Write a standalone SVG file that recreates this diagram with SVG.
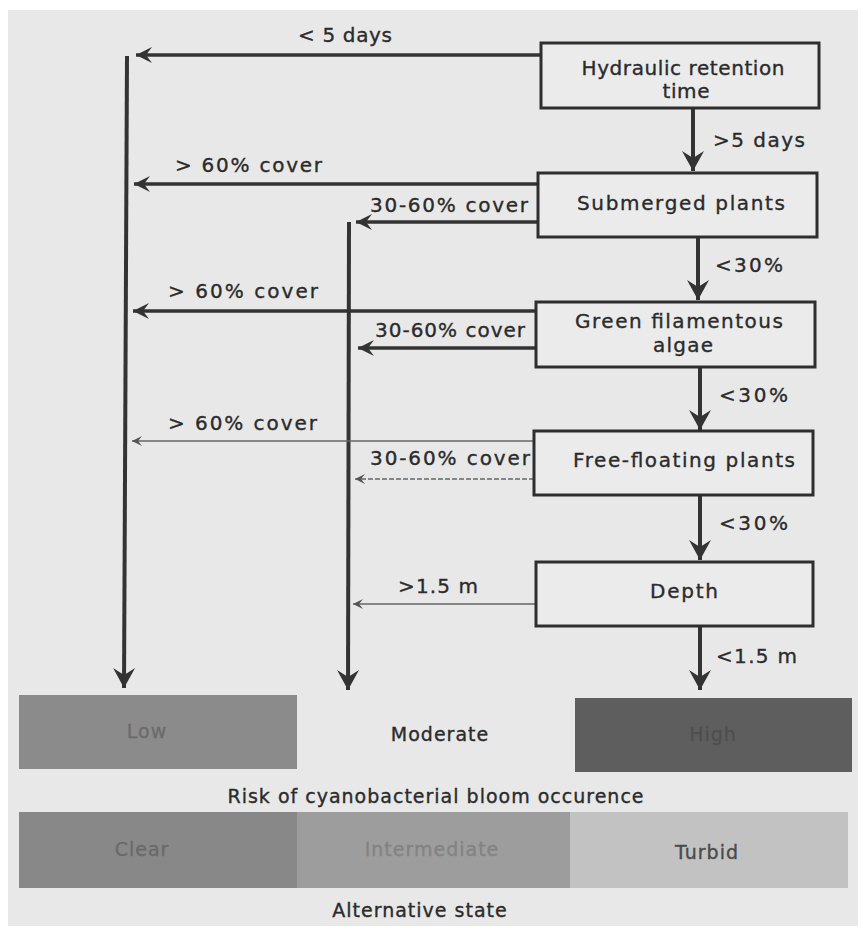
<svg xmlns="http://www.w3.org/2000/svg" width="863" height="944" viewBox="0 0 863 944">
<defs>
<marker id="ah" markerUnits="userSpaceOnUse" viewBox="-22 -12 24 24" refX="0" refY="0" markerWidth="24" markerHeight="24" orient="auto">
<path d="M0,0 L-20,-11 L-13,0 L-20,11 Z" fill="#333"/>
</marker>
<marker id="ahm" markerUnits="userSpaceOnUse" viewBox="-18 -10 20 20" refX="0" refY="0" markerWidth="20" markerHeight="20" orient="auto">
<path d="M0,0 L-16,-8 L-10,0 L-16,8 Z" fill="#333"/>
</marker>
<marker id="ahs" markerUnits="userSpaceOnUse" viewBox="-12 -7 14 14" refX="0" refY="0" markerWidth="14" markerHeight="14" orient="auto">
<path d="M0,0 L-10,-5 L-6,0 L-10,5 Z" fill="#555"/>
</marker>
</defs>
<style>
text{font-family:"DejaVu Sans","Verdana",sans-serif;fill:#2b2b2b;stroke:#2b2b2b;stroke-width:0.35}
.node rect{fill:#ebebeb;stroke:#2e2e2e;stroke-width:3}
.nt{font-size:20px;text-anchor:middle}
.lb{font-size:20px}
.thick{stroke:#333;stroke-width:4;fill:none}
.med{stroke:#333;stroke-width:3.5;fill:none}
.thin{stroke:#666;stroke-width:1.6;fill:none}
.bt{font-size:19px;letter-spacing:1px;text-anchor:middle}
</style>
<rect x="0" y="0" width="863" height="944" fill="#ffffff"/>
<rect x="8" y="10" width="850" height="916" fill="#e8e8e8"/>

<g id="connectors">
<line class="med" x1="541" y1="55" x2="136" y2="55" marker-end="url(#ahm)"/>
<line class="thick" x1="127" y1="56" x2="124" y2="688" marker-end="url(#ah)"/>
<line class="med" x1="538" y1="184" x2="134" y2="184" marker-end="url(#ahm)"/>
<line class="med" x1="538" y1="222" x2="356" y2="222" marker-end="url(#ahm)"/>
<line class="thick" x1="349" y1="222" x2="348" y2="690" marker-end="url(#ah)"/>
<line class="med" x1="536" y1="311" x2="133" y2="311" marker-end="url(#ahm)"/>
<line class="med" x1="536" y1="348" x2="358" y2="348" marker-end="url(#ahm)"/>
<line class="thin" x1="534" y1="441" x2="132" y2="441" marker-end="url(#ahs)"/>
<line class="thin" x1="534" y1="479" x2="355" y2="479" stroke-dasharray="5 2" marker-end="url(#ahs)"/>
<line class="thin" x1="536" y1="604" x2="353" y2="604" marker-end="url(#ahs)"/>
<line class="thick" x1="693" y1="108" x2="693" y2="171" marker-end="url(#ah)"/>
<line class="thick" x1="698" y1="237" x2="698" y2="300" marker-end="url(#ah)"/>
<line class="thick" x1="700" y1="367" x2="700" y2="430" marker-end="url(#ah)"/>
<line class="thick" x1="700" y1="495" x2="700" y2="560" marker-end="url(#ah)"/>
<line class="thick" x1="700" y1="626" x2="700" y2="690" marker-end="url(#ah)"/>
<text class="lb" x="298" y="42" textLength="94">&lt; 5 days</text>
<text class="lb" x="713" y="147" textLength="92">&gt;5 days</text>
<text class="lb" x="175" y="172" textLength="147">&gt; 60% cover</text>
<text class="lb" x="370" y="212" textLength="158">30-60% cover</text>
<text class="lb" x="715" y="272" textLength="68">&lt;30%</text>
<text class="lb" x="168" y="298" textLength="150">&gt; 60% cover</text>
<text class="lb" x="375" y="337" textLength="150">30-60% cover</text>
<text class="lb" x="719" y="402" textLength="69">&lt;30%</text>
<text class="lb" x="168" y="430" textLength="149">&gt; 60% cover</text>
<text class="lb" x="370" y="465" textLength="160">30-60% cover</text>
<text class="lb" x="719" y="530" textLength="69">&lt;30%</text>
<text class="lb" x="398" y="593" textLength="80">&gt;1.5 m</text>
<text class="lb" x="716" y="663" textLength="81">&lt;1.5 m</text>
</g>

<g id="n-hrt" class="node">
<rect x="541" y="43" width="278" height="65"/>
<text class="nt" x="683" y="75" textLength="203">Hydraulic retention</text>
<text class="nt" x="686" y="98" textLength="47">time</text>
</g>
<g id="n-submerged" class="node">
<rect x="538" y="173" width="279" height="64"/>
<text class="nt" x="681" y="210" textLength="208">Submerged plants</text>
</g>
<g id="n-green" class="node">
<rect x="536" y="302" width="279" height="65"/>
<text class="nt" x="679" y="328" textLength="208">Green filamentous</text>
<text class="nt" x="683" y="352" textLength="60">algae</text>
</g>
<g id="n-free" class="node">
<rect x="534" y="431" width="279" height="64"/>
<text class="nt" x="684" y="467" textLength="222">Free-floating plants</text>
</g>
<g id="n-depth" class="node">
<rect x="536" y="562" width="277" height="64"/>
<text class="nt" x="684" y="598" textLength="68">Depth</text>
</g>

<g id="risk">
<rect x="19" y="695" width="278" height="74" fill="#8b8b8b"/>
<text class="bt" x="147" y="738" style="fill:#6b6b6b;stroke:#6b6b6b">Low</text>
<text class="bt" x="440" y="741">Moderate</text>
<rect x="575" y="698" width="277" height="74" fill="#5e5e5e"/>
<text class="bt" x="713" y="741" style="fill:#4f4f4f;stroke:#4f4f4f">High</text>
<text class="bt" x="436" y="803">Risk of cyanobacterial bloom occurence</text>
</g>
<g id="state">
<rect x="19" y="812" width="278" height="76" fill="#888888"/>
<rect x="297" y="812" width="273" height="76" fill="#9d9d9d"/>
<rect x="570" y="812" width="278" height="76" fill="#c2c2c2"/>
<text class="bt" x="142" y="856" style="fill:#6a6a6a;stroke:#6a6a6a">Clear</text>
<text class="bt" x="432" y="856" style="fill:#838383;stroke:#838383">Intermediate</text>
<text class="bt" x="707" y="859" style="fill:#4a4a4a;stroke:#4a4a4a">Turbid</text>
<text class="bt" x="420" y="917">Alternative state</text>
</g>
</svg>
